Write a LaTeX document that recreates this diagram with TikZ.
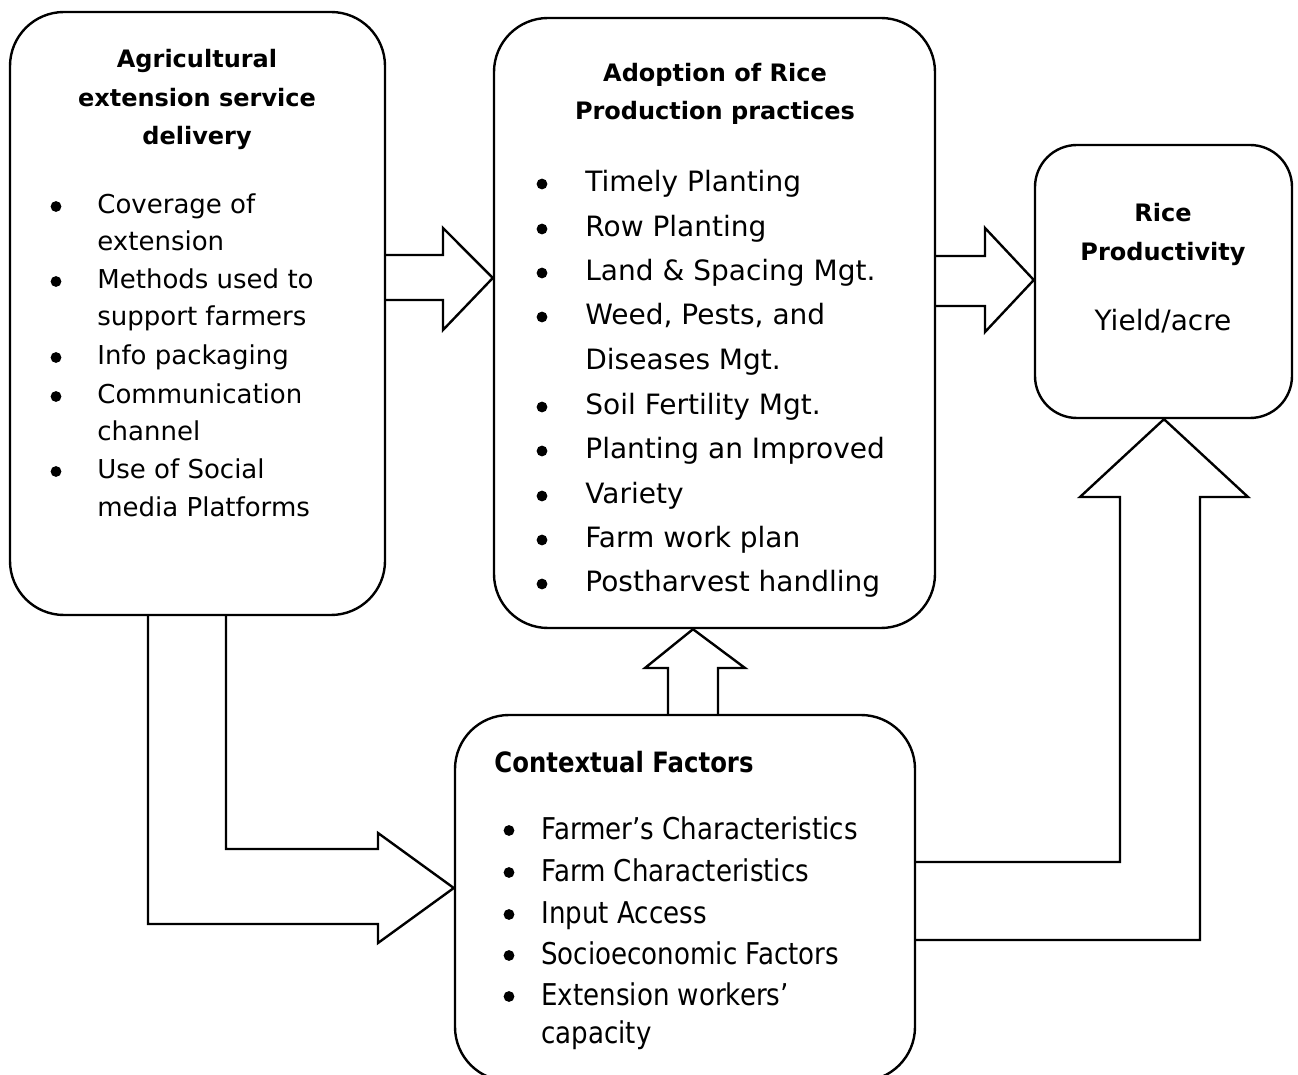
\documentclass[tikz,border=0pt]{standalone}
\usepackage{fontspec}
\setmainfont{DejaVu Sans}
\newfontfamily\narrowfont[FakeStretch=0.87]{DejaVu Sans}
\usetikzlibrary{positioning}

\tikzset{
  box/.style={draw, line width=1.2pt, rounded corners=27pt, inner sep=0pt},
  barrow/.style={draw, line width=1.2pt, line join=miter},
  item/.style={anchor=base west, inner sep=0pt},
  dot/.style={circle, fill, inner sep=0pt, minimum size=5.4pt},
  head/.style={anchor=base, inner sep=0pt, font=\bfseries\fontsize{12}{14}\selectfont},
}

\begin{document}
\begin{tikzpicture}[x=0.5pt, y=-0.5pt]
\clip (0,0) rectangle (1298,1075);

% the four boxes
\node[box, minimum width=187.5pt, minimum height=301.5pt] (agr) at (197.5,313.5) {};
\node[box, minimum width=220.5pt, minimum height=305pt] (adopt) at (714.5,323) {};
\node[box, rounded corners=21pt, minimum width=128.5pt, minimum height=136.5pt] (prod) at (1163.5,281.5) {};
\node[box, minimum width=230pt, minimum height=183pt] (ctx) at (685,898) {};

% block arrows
\draw[barrow] (agr.east |- 0,255) -| (443,228) -- (adopt.west |- 0,278) -- (443,330) |- (agr.east |- 0,300);
\draw[barrow] (adopt.east |- 0,256) -| (985,228) -- (prod.west |- 0,280) -- (985,332) |- (adopt.east |- 0,306);
\draw[barrow] (ctx.north -| 668,0) |- (645,668) -- (adopt.south -| 693,0) -- (745,668) -| (ctx.north -| 718,0);
\draw[barrow] (ctx.east |- 0,862) -| (1120,497) -- (1080,497) -- (prod.south -| 1164,0) -- (1248,497) -- (1200,497) |- (ctx.east |- 0,940);
\draw[barrow] (agr.south -| 148,0) |- (378,924) -- (378,943) -- (ctx.west |- 0,888) -- (378,833) -- (378,849) -| (agr.south -| 226,0);

% Agricultural extension
\foreach \y/\t in {59/Agricultural, 98/extension service, 136/delivery}
  \node[head] (ah\y) at (197,\y+9) {\t};
\foreach \y/\t in {205/Coverage of, 242/extension, 280/Methods used to, 317/support farmers,
    356/Info packaging, 395/Communication, 432/channel, 470/Use of Social, 508/media Platforms}
  \node[item, font=\fontsize{13}{15}\selectfont] (a\y) at (97,\y+9) {\t};
\foreach \y in {205,280,356,395,470}
  \node[dot] (ab\y) at (56,\y+1.5) {};

% Adoption of practices
\foreach \y/\t in {73/Adoption of Rice, 111/Production practices}
  \node[head] (bh\y) at (715,\y+9) {\t};
\foreach \y/\t in {182/Timely Planting, 227/Row Planting, 271/Land \& Spacing Mgt., 315/{Weed, Pests, and},
    360/Diseases Mgt., 405/Soil Fertility Mgt., 449/Planting an Improved, 494/Variety,
    538/Farm work plan, 582/Postharvest handling}
  \node[item, font=\fontsize{14}{16}\selectfont] (b\y) at (585,\y+10) {\t};
\foreach \y in {182,227,271,315,405,449,494,538,582}
  \node[dot] (bb\y) at (542,\y+2) {};

% Rice productivity
\foreach \y/\t in {213/Rice, 252/Productivity}
  \node[head] (ch\y) at (1163,\y+9) {\t};
\node[anchor=base, inner sep=0pt, font=\fontsize{14}{16}\selectfont] (yield) at (1163,331) {Yield/acre};

% Contextual factors
\node[item, font=\narrowfont\bfseries\fontsize{14}{16}\selectfont] (dh) at (494,772) {Contextual Factors};
\foreach \y/\t in {829/Farmer’s Characteristics, 871/Farm Characteristics, 913/Input Access,
    954/Socioeconomic Factors, 995/Extension workers’, 1033/capacity}
  \node[item, font=\narrowfont\fontsize{15}{17}\selectfont] (d\y) at (541,\y+10) {\t};
\foreach \y in {829,871,913,954,995}
  \node[dot] (db\y) at (509,\y+1.5) {};
\end{tikzpicture}
\end{document}
